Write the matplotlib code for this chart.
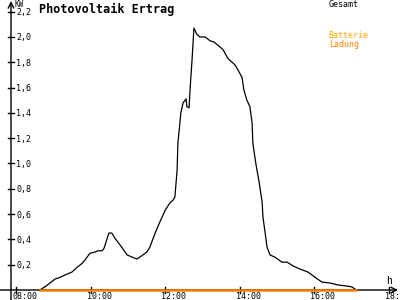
import matplotlib
matplotlib.use("Agg")
import matplotlib.pyplot as plt

# Gesamt (kW) over time (hours)
hours = [8.64, 8.80, 8.91, 9.05, 9.18, 9.37, 9.50, 9.64, 9.77, 9.85, 9.98,
         10.12, 10.20, 10.31, 10.36, 10.49, 10.57, 10.65, 10.79, 10.98, 11.11,
         11.24, 11.32, 11.51, 11.59, 11.73, 11.86, 12.00, 12.13, 12.21, 12.26,
         12.32, 12.34, 12.42, 12.48, 12.56, 12.58, 12.64, 12.67, 12.72, 12.77,
         12.85, 12.93, 13.07, 13.20, 13.31, 13.47, 13.55, 13.68, 13.87, 13.95,
         14.06, 14.11, 14.19, 14.27, 14.33, 14.35, 14.43, 14.52, 14.60, 14.62,
         14.68, 14.73, 14.81, 14.94, 15.13, 15.27, 15.43, 15.61, 15.83, 16.02,
         16.20, 16.42, 16.63, 16.90, 17.01, 17.12]
gesamt = [0.0, 0.03, 0.055, 0.087, 0.10, 0.126, 0.142, 0.18, 0.21, 0.237, 0.29,
          0.30, 0.31, 0.31, 0.33, 0.45, 0.45, 0.41, 0.356, 0.277, 0.26,
          0.245, 0.26, 0.30, 0.34, 0.45, 0.54, 0.63, 0.69, 0.71, 0.735,
          0.95, 1.16, 1.40, 1.48, 1.51, 1.45, 1.44, 1.60, 1.82, 2.07,
          2.02, 2.00, 2.00, 1.97, 1.96, 1.92, 1.90, 1.83, 1.78, 1.74,
          1.68, 1.58, 1.50, 1.45, 1.32, 1.16, 1.00, 0.85, 0.69, 0.58,
          0.45, 0.34, 0.277, 0.26, 0.22, 0.22, 0.19, 0.166, 0.142, 0.10,
          0.063, 0.055, 0.04, 0.03, 0.024, 0.0]
# Batterie Ladung stays at zero
ladung = [0.0 for _ in hours]

yticks = [0.2, 0.4, 0.6, 0.8, 1.0, 1.2, 1.4, 1.6, 1.8, 2.0, 2.2]
xticks = [8, 10, 12, 14, 16, 18]
xlabels = ["08:00", "10:00", "12:00", "14:00", "16:00", "18:"]

mono = "DejaVu Sans Mono"
orange = "#ff8000"

fig = plt.figure(figsize=(4, 3), dpi=100)
ax = fig.add_axes([0, 0, 1, 1])
ax.set_xlim(7.571, 18.295)
ax.set_ylim(-0.079, 2.292)
ax.axis("off")

px = 1 / 37.3   # one pixel in hours
py = 1 / 126.5  # one pixel in kW
x_axis = 8 - 5 * px

# axes with arrows
ax.annotate("", xy=(x_axis, 2.292 - 1 * py), xytext=(x_axis, -0.079),
            arrowprops=dict(arrowstyle="->", lw=1, color="black", shrinkA=0, shrinkB=0))
ax.annotate("", xy=(18.295 - 2 * px, 0), xytext=(7.571, 0),
            arrowprops=dict(arrowstyle="->", lw=1, color="black", shrinkA=0, shrinkB=0))

for v in yticks:
    ax.plot([x_axis - 3 * px, x_axis + 3 * px], [v, v], color="black", lw=1)
    ax.text(x_axis + 5 * px, v - 1 * py, f"{v:.1f}".replace(".", ","), fontsize=6,
            family=mono, va="center", ha="left")
for h, lab in zip(xticks, xlabels):
    ax.plot([h, h], [-3 * py, 3 * py], color="black", lw=1)
    ax.text(h - 4 * px, -6 * py, lab, fontsize=6, family=mono, va="center", ha="left")

ax.text(x_axis + 3 * px, 2.292 - 4 * py, "KW", fontsize=5.5, family=mono, va="center")
ax.text(8 + 370 * px, 9 * py, "h", fontsize=7, family=mono, va="center")

ax.plot(hours, gesamt, color="black", lw=0.9, zorder=4)
ax.plot(hours, ladung, color=orange, lw=1.8, zorder=5)

ax.text(0.0975, 0.968, "Photovoltaik Ertrag", transform=ax.transAxes, fontsize=8.5,
        family=mono, weight="bold", va="center")
ax.text(0.822, 0.985, "Gesamt", transform=ax.transAxes, fontsize=6, family=mono, va="center")
ax.text(0.822, 0.88, "Batterie", transform=ax.transAxes, fontsize=6, family=mono,
        va="center", color="#ffaa00")
ax.text(0.822, 0.852, "Ladung", transform=ax.transAxes, fontsize=6, family=mono,
        va="center", color=orange)

fig.savefig("out.png", dpi=100)
